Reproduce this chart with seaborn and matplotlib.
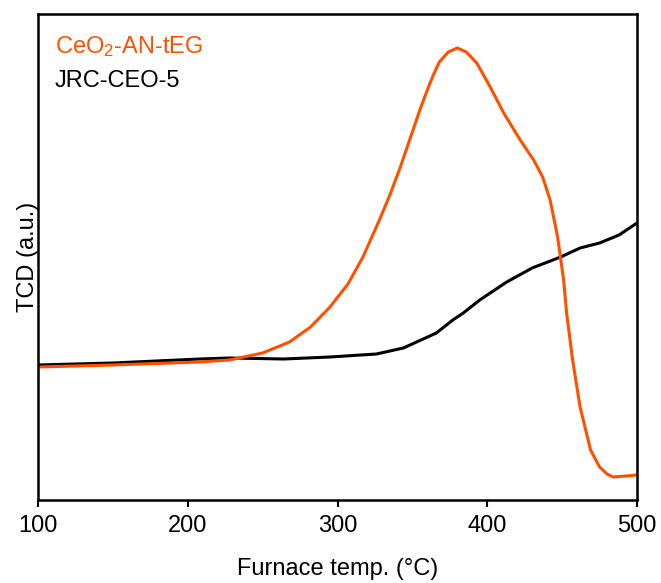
import matplotlib
matplotlib.use('Agg')
from matplotlib import pyplot as plt
import seaborn as sns
import pandas as pd

# 数据：炉温 (°C) 与 TCD 信号 (任意单位)
ceo2_temp = [100, 150, 208, 228, 250, 268, 282, 295, 307, 317, 328, 335, 342,
             350, 355, 360, 364, 368, 374, 380, 386, 393, 402, 411, 422, 431,
             437, 442, 447, 451, 453, 457, 462, 469, 475, 480, 484, 493, 500]
ceo2_tcd = [133, 135, 138, 140, 147, 158, 173, 193, 216, 243, 280, 305, 333,
            368, 390, 410, 425, 438, 448, 452, 448, 437, 413, 387, 360, 340,
            323, 300, 263, 220, 187, 140, 93, 50, 33, 26, 23, 24, 25]

jrc_temp = [100, 150, 208, 228, 264, 295, 326, 344, 366, 377, 384, 395, 413,
            430, 449, 462, 475, 488, 500]
jrc_tcd = [135, 137, 141, 142, 141, 143, 146, 152, 167, 180, 187, 200, 218,
           232, 243, 252, 257, 265, 277]

ceo2_label = 'CeO$_2$-AN-tEG'
jrc_label = 'JRC-CEO-5'
orange = '#ff5000'

sns.set_style('ticks')
plt.rcParams['font.family'] = ['Liberation Sans', 'DejaVu Sans']
plt.rcParams['mathtext.fontset'] = 'custom'
plt.rcParams['mathtext.rm'] = 'Liberation Sans'
plt.rcParams['mathtext.default'] = 'regular'

df_ceo2 = pd.DataFrame({'temp': ceo2_temp, 'tcd': ceo2_tcd})
df_jrc = pd.DataFrame({'temp': jrc_temp, 'tcd': jrc_tcd})

fig = plt.figure(figsize=(6.61, 5.83), dpi=100)
ax = fig.add_axes([38 / 661, 83 / 583, 599 / 661, 486 / 583])

sns.lineplot(data=df_jrc, x='temp', y='tcd', ax=ax, color='black', linewidth=2.2)
sns.lineplot(data=df_ceo2, x='temp', y='tcd', ax=ax, color=orange, linewidth=2.2)
for ln in ax.lines:
    ln.set_solid_joinstyle('round')

ax.set_xlim(100, 500)
ax.set_ylim(0, 486)
ax.set_xticks([100, 200, 300, 400, 500])
ax.set_yticks([])
ax.tick_params(axis='x', direction='out', length=5, width=1.5, labelsize=17,
               pad=6, color='black', labelcolor='black')
for sp in ax.spines.values():
    sp.set_linewidth(1.8)
    sp.set_color('black')
    sp.set_visible(True)

ax.set_xlabel('Furnace temp. (°C)', fontsize=17, labelpad=15, color='black')
ax.set_ylabel('TCD (a.u.)', fontsize=17, labelpad=-1, color='black')

# 图例文字
ax.text(17 / 599, 1 - 33 / 486, ceo2_label, transform=ax.transAxes, color=orange,
        fontsize=17, va='center', ha='left')
ax.text(17 / 599, 1 - 67 / 486, jrc_label, transform=ax.transAxes, color='black',
        fontsize=17, va='center', ha='left')

fig.savefig('out.png', dpi=100)
